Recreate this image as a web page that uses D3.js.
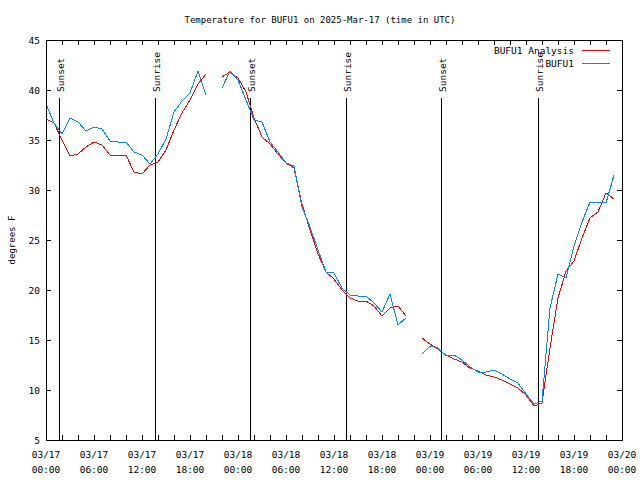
<!DOCTYPE html>
<html>
<head>
<meta charset="utf-8">
<script src="https://cdn.jsdelivr.net/npm/d3@7"></script>
<style>
  html, body { margin: 0; padding: 0; background: #fff; }
  svg { display: block; }
  text { font-family: "DejaVu Sans Mono", "Liberation Mono", monospace; fill: #000; }
</style>
</head>
<body>
<svg id="chart" width="640" height="480"></svg>
<script>
// ---- data ----
const titleText = "Temperature for BUFU1 on 2025-Mar-17 (time in UTC)";
const yLabel = "degrees F";
const startUTC = Date.UTC(2025, 2, 17, 0, 0);
const endUTC = Date.UTC(2025, 2, 20, 0, 0);
const hourOffsets = d3.range(72); // hourly observation times from 03/17 00:00 UTC

const analysisValues = [
  37.1, 36.7, 35.0, 33.4, 33.6, 34.3, 34.8, 34.5, 33.5, 33.4, 33.5, 31.8,
  31.6, 32.5, 32.8, 34.0, 36.0, 37.7, 39.0, 40.6, 41.6, null, 41.3, 41.8,
  41.2, 39.8, 37.2, 35.3, 34.6, 33.6, 32.7, 32.2, 28.6, 26.0, 23.6, 21.8,
  21.1, 20.0, 19.2, 18.9, 18.9, 18.4, 17.4, 18.2, 18.4, 17.4, null, 15.2,
  14.6, 14.1, 13.5, 13.1, 12.8, 12.2, 11.9, 11.5, 11.3, 11.0, 10.6, 10.2,
  9.5, 8.4, 8.7, 14.2, 19.2, 21.9, 22.9, 25.2, 27.2, 27.8, 29.7, 29.1
];
const observedValues = [
  38.6, 36.7, 35.6, 37.2, 36.8, 35.9, 36.3, 36.1, 34.9, 34.8, 34.8, 33.8,
  33.5, 32.6, 33.6, 35.1, 37.8, 38.9, 39.7, 41.9, 39.5, null, 40.2, 41.9,
  41.0, 39.0, 37.0, 36.8, 34.8, 33.8, 32.7, 32.4, 28.3, 26.3, 24.0, 21.8,
  21.7, 20.2, 19.5, 19.4, 19.4, 18.7, 17.8, 19.6, 16.5, 17.2, null, 13.6,
  14.4, 14.2, 13.4, 13.5, 13.0, 12.3, 11.8, 11.8, 12.0, 11.6, 11.1, 10.7,
  9.6, 8.6, 8.9, 18.2, 21.6, 21.2, 24.4, 26.8, 28.8, 28.8, 28.7, 31.5
];
const seriesNames = ["BUFU1 Analysis", "BUFU1"];
const seriesColors = ["#ff0000", "#0088ff"];

const sunLabels = ["Sunset", "Sunrise", "Sunset", "Sunrise", "Sunset", "Sunrise"];
const sunHours = [1.6, 13.6, 25.55, 37.55, 49.42, 61.53];

const yTicks = [5, 10, 15, 20, 25, 30, 35, 40, 45];

// ---- layout ----
const svg = d3.select("#chart");
const L = 46, R = 622, T = 40, B = 440;
const hourMs = 3600 * 1000;

const x = d3.scaleUtc().domain([new Date(startUTC), new Date(endUTC)]).range([L, R]);
const y = d3.scaleLinear().domain([5, 45]).range([B, T]);

const fmtDate = d3.utcFormat("%m/%d");
const fmtTime = d3.utcFormat("%H:%M");

// title
svg.append("text").attr("x", 320).attr("y", 23).attr("text-anchor", "middle")
  .style("font-size", "9px").text(titleText);

// y label
svg.append("text").attr("transform", "translate(15,240) rotate(-90)")
  .attr("text-anchor", "middle").style("font-size", "9px").text(yLabel);

// axes
const allTicks = d3.utcHour.every(2).range(new Date(startUTC), new Date(endUTC + 1));
const isMajor = d => d.getUTCHours() % 6 === 0;

const xb = svg.append("g").attr("transform", `translate(0,${B})`)
  .call(d3.axisBottom(x).tickValues(allTicks).tickSizeInner(-5).tickSizeOuter(0).tickFormat(""));
xb.select(".domain").remove();
xb.selectAll(".tick line").attr("stroke", "#000").attr("shape-rendering", "crispEdges");

const xt = svg.append("g").attr("transform", `translate(0,${T})`)
  .call(d3.axisTop(x).tickValues(allTicks).tickSizeInner(-5).tickSizeOuter(0).tickFormat(""));
xt.select(".domain").remove();
xt.selectAll(".tick line").attr("stroke", "#000").attr("shape-rendering", "crispEdges");

// x labels (two lines)
const majorTicks = allTicks.filter(isMajor);
const xl = svg.append("g");
majorTicks.forEach(d => {
  const t = xl.append("text").attr("text-anchor", "middle").style("font-size", "9.5px");
  t.append("tspan").attr("x", x(d)).attr("y", 458).text(fmtDate(d));
  t.append("tspan").attr("x", x(d)).attr("y", 473).text(fmtTime(d));
});

const yl = svg.append("g").attr("transform", `translate(${L},0)`)
  .call(d3.axisLeft(y).tickValues(yTicks).tickSizeInner(-5).tickSizeOuter(0).tickPadding(6).tickFormat(d3.format("d")));
yl.select(".domain").remove();
yl.selectAll(".tick line").attr("stroke", "#000").attr("shape-rendering", "crispEdges");
yl.selectAll(".tick text").style("font-size", "9.5px").style("font-family", "DejaVu Sans Mono, monospace");

const yr = svg.append("g").attr("transform", `translate(${R},0)`)
  .call(d3.axisRight(y).tickValues(yTicks).tickSizeInner(-5).tickSizeOuter(0).tickFormat(""));
yr.select(".domain").remove();
yr.selectAll(".tick line").attr("stroke", "#000").attr("shape-rendering", "crispEdges");

// sunrise / sunset
sunHours.forEach((h, i) => {
  const t = new Date(startUTC + h * hourMs);
  const xx = Math.round(x(t)) + 0.5;
  svg.append("line").attr("x1", xx).attr("x2", xx).attr("y1", 98).attr("y2", B)
    .attr("stroke", "#000").attr("stroke-width", 1);
  svg.append("text").attr("transform", `translate(${xx + 4},92) rotate(-90)`)
    .attr("text-anchor", "start").style("font-size", "9.5px").text(sunLabels[i]);
});

// series
const line = d3.line()
  .defined(d => d.v !== null)
  .x(d => x(d.t))
  .y(d => y(d.v));

[analysisValues, observedValues].forEach((vals, si) => {
  const data = hourOffsets.map((h, i) => ({ t: new Date(startUTC + h * hourMs), v: vals[i] }));
  svg.append("path").datum(data).attr("d", line)
    .attr("fill", "none").attr("stroke", seriesColors[si]).attr("stroke-width", 1)
    .attr("shape-rendering", "crispEdges");
});

// frame
svg.append("rect").attr("x", L + 0.5).attr("y", T + 0.5).attr("width", R - L).attr("height", B - T)
  .attr("fill", "none").attr("stroke", "#000").attr("stroke-width", 1);

// legend
const legY = [50, 63];
seriesNames.forEach((n, i) => {
  svg.append("text").attr("x", 574).attr("y", legY[i] + 3.5).attr("text-anchor", "end")
    .style("font-size", "9.5px").text(n);
  svg.append("line").attr("x1", 582).attr("x2", 610).attr("y1", legY[i] + 0.5).attr("y2", legY[i] + 0.5)
    .attr("stroke", seriesColors[i]).attr("stroke-width", 1);
});
</script>
</body>
</html>
